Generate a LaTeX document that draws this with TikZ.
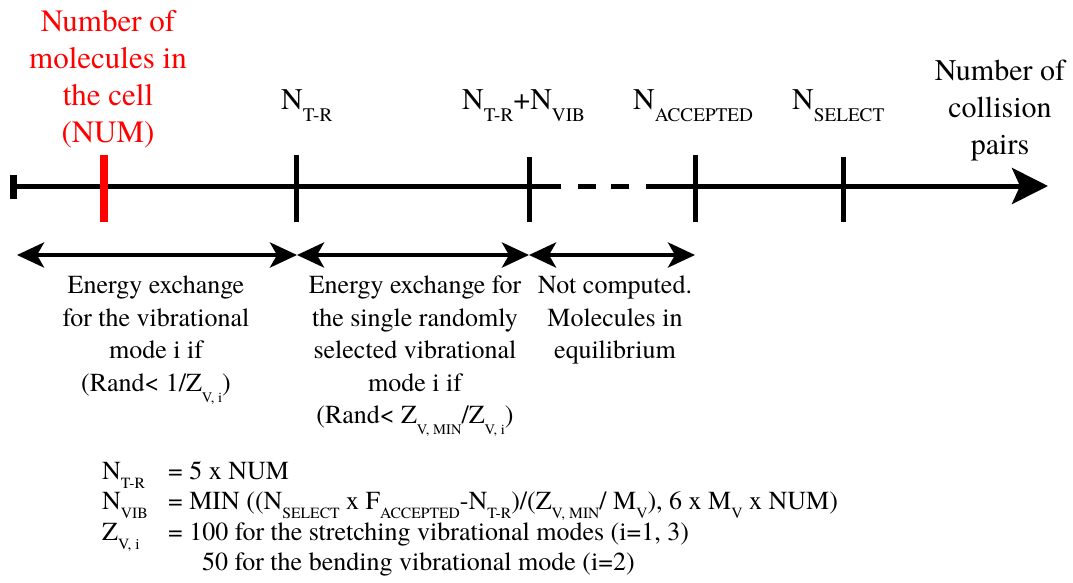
\documentclass[tikz,border=0pt]{standalone}
\usepackage{fontspec}
\setmainfont{TeX Gyre Termes}
\usepackage{graphicx}
\usetikzlibrary{arrows.meta}
\newcommand{\sbs}[1]{\raisebox{-0.42em}{\scalebox{0.56}{#1}}}
\newcommand{\tsb}[1]{\raisebox{-0.42em}{\scalebox{0.64}{#1}}}
\newcommand{\fsb}[1]{\raisebox{-0.36em}{\scalebox{0.6}{#1}}}
\begin{document}
\begin{tikzpicture}[x=1pt,y=-1pt,
  axisline/.style={line width=5pt},
  tickmark/.style={line width=5pt},
  spanarrow/.style={line width=4.5pt,
    {Stealth[length=27pt,width=25pt,inset=7pt]}-{Stealth[length=27pt,width=25pt,inset=7pt]}},
  toplabel/.style={inner sep=0pt,font=\fontsize{30}{37}\selectfont,align=center,anchor=north},
  redlabel/.style={inner sep=0pt,font=\fontsize{31}{37}\selectfont,align=center,anchor=north,text=red},
  nlabel/.style={inner sep=0pt,font=\fontsize{30}{36}\selectfont,anchor=base west},
  botlabel/.style={inner sep=0pt,font=\fontsize{26}{32.5}\selectfont,align=center,anchor=north},
  formula/.style={inner sep=0pt,font=\fontsize{26}{30}\selectfont,anchor=base west}]
\useasboundingbox (0,0) rectangle (1073,582);

% axis coordinates
\coordinate (A0) at (13,186);
\coordinate (G1) at (561,186);
\coordinate (D1a) at (578,186);
\coordinate (D1b) at (596,186);
\coordinate (D2a) at (611,186);
\coordinate (D2b) at (629,186);
\coordinate (G2) at (646,186);
\coordinate (TIP) at (1048,186);

% ticks
\coordinate (Rt) at (104,155); \coordinate (Rb) at (104,222);
\coordinate (T1t) at (296,155); \coordinate (T1b) at (296,222);
\coordinate (T2t) at (529,157); \coordinate (T2b) at (529,222);
\coordinate (T3t) at (695,155); \coordinate (T3b) at (695,222);
\coordinate (T4t) at (843,157); \coordinate (T4b) at (843,222);
\coordinate (Lt) at (13,175); \coordinate (Lb) at (13,199);

\draw[axisline] (A0) -- (G1);
\draw[axisline] (D1a) -- (D1b);
\draw[axisline] (D2a) -- (D2b);
\draw[axisline,-{Stealth[length=36pt,width=36pt,inset=8pt]}] (G2) -- (TIP);
\draw[line width=7pt] (Lt) -- (Lb);
\draw[tickmark,red,line width=8pt] (Rt) -- (Rb);
\draw[tickmark] (T1t) -- (T1b);
\draw[tickmark] (T2t) -- (T2b);
\draw[tickmark] (T3t) -- (T3b);
\draw[tickmark] (T4t) -- (T4b);

% span arrows
\coordinate (S0) at (17,255);
\coordinate (S1) at (297,255);
\coordinate (S2) at (529,255);
\coordinate (S3) at (695,255);
\draw[spanarrow] (S0) -- (S1);
\draw[spanarrow] (S1) -- (S2);
\draw[spanarrow] (S2) -- (S3);

% top labels
\node[redlabel] (num) at (108,10) {Number of\\molecules in\\the cell\\(NUM)};
\node[toplabel] (pairs) at (1000,60) {Number of\\collision\\pairs};
\node[nlabel] (ntr) at (281,109) {N\tsb{T-R}};
\node[nlabel] (ntrvib) at (462,109) {N\tsb{T-R}+N\tsb{VIB}};
\node[nlabel] (nacc) at (633,109) {N\tsb{ACCEPTED}};
\node[nlabel] (nsel) at (792,109) {N\tsb{SELECT}};

% bottom labels
\node[botlabel] (b1) at (156,276) {Energy exchange\\for the vibrational\\mode i if\\(Rand< 1/Z\sbs{V, i})};
\node[botlabel] (b2) at (415,276) {Energy exchange for\\the single randomly\\selected vibrational\\mode i if\\(Rand< Z\sbs{V, MIN}/Z\sbs{V, i})};
\node[botlabel] (b3) at (615,276) {Not computed.\\Molecules in\\equilibrium};

% formulas
\node[formula] (f1l) at (102,479) {N\fsb{T-R}};
\node[formula] (f1r) at (168,479) {= 5 x NUM};
\node[formula] (f2l) at (102,509) {N\fsb{VIB}};
\node[formula] (f2r) at (168,509) {= MIN ((N\fsb{SELECT} x F\fsb{ACCEPTED}-N\fsb{T-R})/(Z\fsb{V, MIN}/ M\fsb{V}), 6 x M\fsb{V} x NUM)};
\node[formula] (f3l) at (102,540) {Z\fsb{V, i}};
\node[formula] (f3r) at (168,540) {= 100 for the stretching vibrational modes (i=1, 3)};
\node[formula] (f4r) at (202,570) {50 for the bending vibrational mode (i=2)};
\end{tikzpicture}
\end{document}
